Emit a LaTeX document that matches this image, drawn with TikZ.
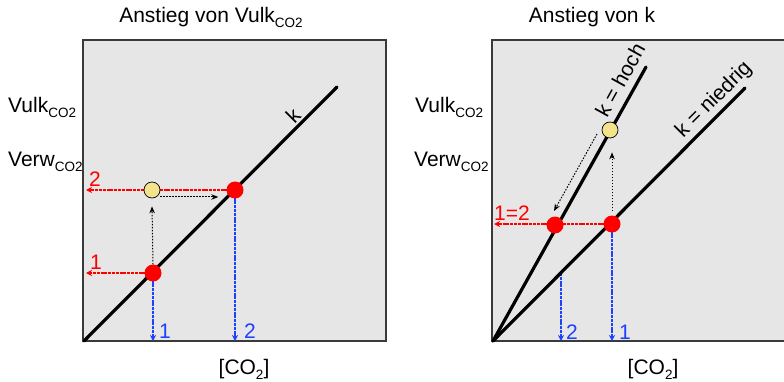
\documentclass[tikz,border=0pt]{standalone}
\usepackage{fontspec}
\setmainfont{Liberation Sans}
\usetikzlibrary{arrows.meta,calc}
\definecolor{boxfill}{HTML}{E6E6E6}
\definecolor{boxline}{HTML}{3A3A3A}
\definecolor{myred}{HTML}{FF0000}
\definecolor{myblue}{HTML}{1E40FF}
\definecolor{myyellow}{HTML}{F2E38C}
\newcommand{\lowsub}[1]{\raisebox{-5pt}{\fontsize{13.5}{14}\selectfont #1}}
\pgfdeclarelayer{back}
\pgfdeclarelayer{mid}
\pgfsetlayers{back,mid,main}
\begin{document}
\begin{tikzpicture}[x=1pt,y=-1pt,
  lbl/.style={font=\fontsize{21}{25}\selectfont, inner sep=0pt},
  panel/.style={draw=boxline, fill=boxfill, line width=1.5pt},
  kline/.style={line width=3.2pt, line cap=round},
  reddot/.style={circle, fill=myred, minimum size=17pt, inner sep=0pt},
  yeldot/.style={circle, fill=myyellow, draw=black, line width=0.7pt, minimum size=16pt, inner sep=0pt},
  redarr/.style={draw=myred, line width=2.4pt, dash pattern=on 3pt off 0.8pt, -{Stealth[length=6pt,width=6pt]}},
  bluearr/.style={draw=myblue, line width=2.4pt, dash pattern=on 3pt off 0.8pt, -{Stealth[length=6pt,width=6pt]}},
  dotarr/.style={draw=black, line width=1pt, dash pattern=on 1.5pt off 1.5pt, -{Stealth[length=7pt,width=5.5pt]}},
  rednum/.style={lbl, text=myred},
  bluenum/.style={lbl, text=myblue},
]
\useasboundingbox (0,0) rectangle (784,382);
\clip (0,0) rectangle (784,382);
\begin{pgfonlayer}{back}
\fill[white] (0,0) rectangle (784,382);
\draw[panel] (83,40) rectangle (386,341);
\draw[panel] (492,40) rectangle (800,341);
\end{pgfonlayer}

% titles and axis labels
\node[lbl, anchor=base] (T1) at (211,23) {Anstieg von Vulk\lowsub{CO2}};
\node[lbl, anchor=base] (T2) at (592,23) {Anstieg von k};
\node[lbl, anchor=base west] (V1) at (8,113) {Vulk\lowsub{CO2}};
\node[lbl, anchor=base west] (W1) at (8,167) {Verw\lowsub{CO2}};
\node[lbl, anchor=base west] (V2) at (415,113) {Vulk\lowsub{CO2}};
\node[lbl, anchor=base west] (W2) at (414,167) {Verw\lowsub{CO2}};
\node[lbl, anchor=base] (C1) at (244,374) {[CO\lowsub{2}]};
\node[lbl, anchor=base] (C2) at (653,374) {[CO\lowsub{2}]};

% ---------- left panel ----------
\coordinate (L0) at (84,341);
\coordinate (Lk) at (337,87);
\coordinate (Lwall) at (86,341);
\draw[kline] (L0) -- (Lk);
\node[lbl, rotate=45] (kL) at (293,115) {k};

\node[reddot] (D1) at (153,273) {};
\node[reddot] (D2) at (235,190) {};
\node[yeldot] (Y1) at (152,190) {};

\begin{pgfonlayer}{mid}
\draw[redarr] (D2.center) -- (Lwall |- D2);
\draw[redarr] (D1.center) -- (Lwall |- D1);
\draw[bluearr] (D1.center) -- (D1 |- L0);
\draw[bluearr] (D2.center) -- (D2 |- L0);
\end{pgfonlayer}
\draw[dotarr] (D1.north) -- ($(Y1.south)+(0,8)$);
\draw[dotarr] ($(Y1.east)+(0,7)$) -- ($(D2.west)+(-8,7)$);

\node[rednum] (r2L) at (95,179) {2};
\node[rednum] (r1L) at (96,262) {1};
\node[bluenum] (b1L) at (165,331) {1};
\node[bluenum] (b2L) at (250,331) {2};

% ---------- right panel ----------
\coordinate (R0) at (493,341);
\coordinate (Rh) at (646,67);
\coordinate (Rn) at (745,88);
\coordinate (Rwall) at (494,341);
\coordinate (N2) at (561,273);
\draw[kline] (R0) -- (Rh);
\draw[kline] (R0) -- (Rn);
\node[lbl, rotate=61] (kH) at (620,80) {k = hoch};
\node[lbl, rotate=45] (kN) at (714,100) {k = niedrig};

\node[reddot] (R2) at (555,225) {};
\node[reddot] (R1) at (612,224) {};
\node[yeldot] (Y2) at (610,130) {};

\begin{pgfonlayer}{mid}
\draw[redarr] (R1.center) -- (Rwall |- R1);
\draw[bluearr] (R1.center) -- (R1 |- R0);
\draw[bluearr] (N2) -- (N2 |- R0);
\end{pgfonlayer}
\draw[dotarr] ($(R1.north)+(0,-4)$) -- ($(Y2.south)+(2,14)$);
\draw[dotarr] ($(Y2)+(-13,4)$) -- ($(R2)+(-1,-14)$);

\node[rednum] (r12) at (512,213) {1=2};
\node[bluenum] (b2R) at (572,332) {2};
\node[bluenum] (b1R) at (625,332) {1};
\end{tikzpicture}
\end{document}
